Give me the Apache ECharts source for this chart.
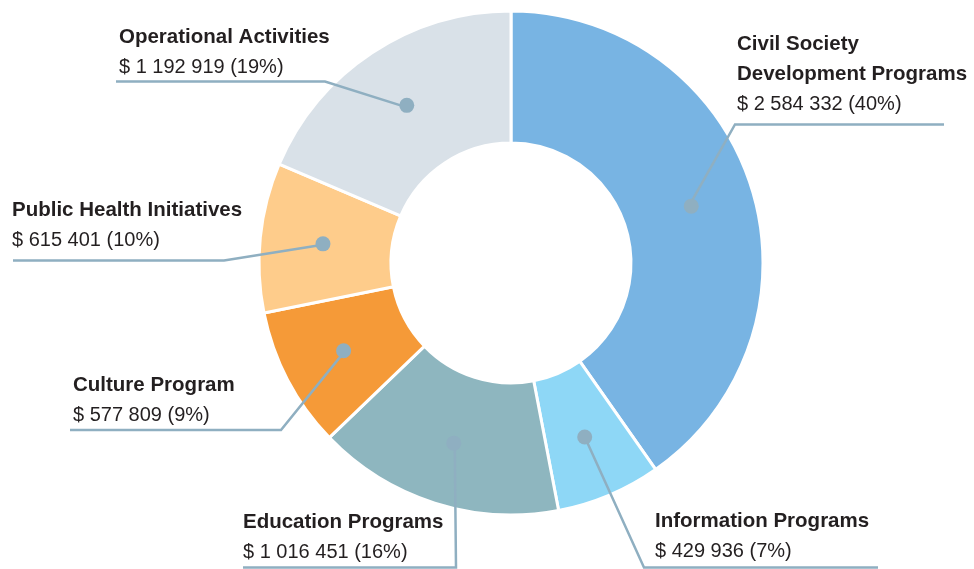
<!DOCTYPE html>
<html><head><meta charset="utf-8">
<script src="https://cdn.jsdelivr.net/npm/echarts@6/dist/echarts.min.js"></script>
<style>html,body{margin:0;padding:0;background:#fff}#c{width:974px;height:569px}</style>
</head><body><div id="c"></div>
<script>
// ---- data ----
const categories = ['Civil Society\nDevelopment Programs', 'Information Programs', 'Education Programs', 'Culture Program', 'Public Health Initiatives', 'Operational Activities'];
const amounts = [2584332, 429936, 1016451, 577809, 615401, 1192919];

// ---- style ----
const colors = ['#78B4E3', '#8ED7F6', '#8EB6BF', '#F59A38', '#FECC8B', '#D9E1E8'];
const lineColor = '#8FAFC1';
const CENTER = [511, 263], R0 = 120, R1 = 252, START = 90;
// label placement: elbow of leader line, end x of horizontal part, text anchor
const labelLayouts = [
  { elbow: [735, 124.5], endX: 944, textX: 737, textBottom: 119 },
  { elbow: [644, 567.5], endX: 878, textX: 655, textBottom: 566 },
  { elbow: [456, 567.5], endX: 243, textX: 243, textBottom: 567 },
  { elbow: [281, 430], endX: 70, textX: 73, textBottom: 430 },
  { elbow: [224, 260.5], endX: 13, textX: 12, textBottom: 255 },
  { elbow: [325, 81.5], endX: 116, textX: 119, textBottom: 82 }
];

const total = amounts.reduce((a, b) => a + b, 0);
const dots = [];
let cum = 0;
amounts.forEach(v => {
  const ang = (START - (cum + v / 2) / total * 360) * Math.PI / 180;
  const rm = (R0 + R1) / 2;
  dots.push([CENTER[0] + rm * Math.cos(ang), CENTER[1] - rm * Math.sin(ang)]);
  cum += v;
});

const fmt = n => '$ ' + String(n).replace(/\B(?=(\d{3})+(?!\d))/g, ' ');
const data = categories.map((c, i) => ({ name: c, value: amounts[i], itemStyle: { color: colors[i] } }));
const plain = categories.map((c, i) => ({ name: c, value: amounts[i] }));

const chart = echarts.init(document.getElementById('c'), null, { renderer: 'canvas' });
chart.setOption({
  animation: false,
  series: [
    {
      type: 'pie',
      center: CENTER,
      radius: [R0, R1],
      startAngle: START,
      clockwise: true,
      silent: true,
      itemStyle: { borderColor: '#fff', borderWidth: 3 },
      label: { show: false },
      labelLine: { show: false },
      data: data
    },
    {
      type: 'pie',
      z: 5,
      center: CENTER,
      radius: [R0, R1],
      startAngle: START,
      clockwise: true,
      avoidLabelOverlap: false,
      silent: true,
      itemStyle: { color: 'rgba(0,0,0,0)', borderWidth: 0 },
      label: {
        show: true,
        position: 'outside',
        formatter: p => p.name.split('\n').map(s => '{t|' + s + '}').join('\n') +
          '\n{v|' + fmt(p.value) + ' (' + Math.round(p.percent) + '%)}',
        rich: {
          t: { fontFamily: 'Liberation Sans', fontWeight: 'bold', fontSize: 20.5, lineHeight: 30, color: '#231F20' },
          v: { fontFamily: 'Liberation Sans', fontSize: 20, lineHeight: 30, color: '#231F20' }
        }
      },
      labelLine: { show: true, lineStyle: { color: lineColor, width: 2.5 } },
      labelLayout: function (params) {
        const L = labelLayouts[params.dataIndex];
        const d = dots[params.dataIndex];
        return {
          x: L.textX, y: L.textBottom, align: 'left', verticalAlign: 'bottom',
          labelLinePoints: [d, L.elbow, [L.endX, L.elbow[1]]]
        };
      },
      data: plain
    },
    {
      type: 'pie',
      z: 6,
      center: CENTER,
      radius: [R0, R1],
      startAngle: START,
      clockwise: true,
      silent: true,
      itemStyle: { color: 'rgba(0,0,0,0)', borderWidth: 0 },
      label: {
        show: true,
        position: 'inside',
        formatter: '{d|}',
        rich: { d: { width: 15, height: 15, lineHeight: 15, borderRadius: 7.5, backgroundColor: lineColor, fontSize: 1 } }
      },
      labelLine: { show: false },
      data: plain
    }
  ]
});
</script>
</body></html>
